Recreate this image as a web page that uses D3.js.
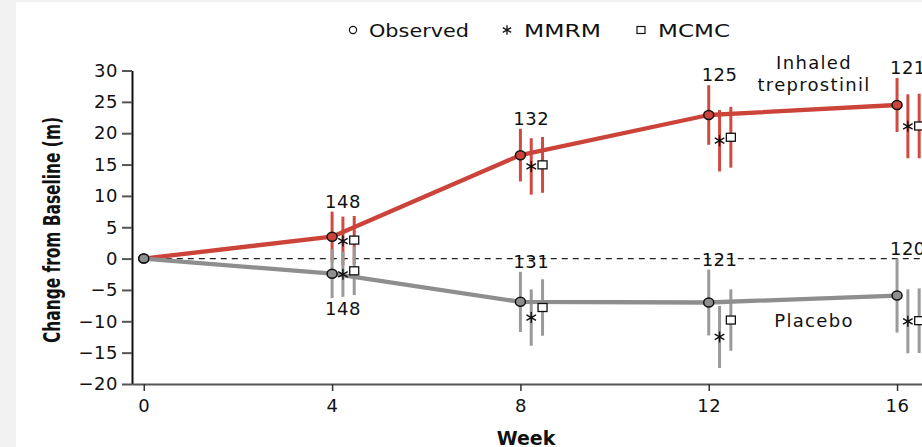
<!DOCTYPE html>
<html>
<head>
<meta charset="utf-8">
<script src="https://cdn.jsdelivr.net/npm/d3@7"></script>
<style>
  body { margin: 0; background: #f2f2f2; }
  svg { display: block; font-family: "DejaVu Sans", sans-serif; }
</style>
</head>
<body>
<div id="chart"></div>
<script>
// weeks and group sizes
var weeks = [0, 4, 8, 12, 16];
var trepN = [148, 132, 125, 121];
var placN = [148, 131, 121, 120];

// inhaled treprostinil, change from baseline (m) and half width of the bars
var trepObs = [0, 3.5, 16.5, 22.9, 24.5];
var trepObsCI = [0, 4.0, 4.2, 4.75, 4.3];
var trepMMRM = [2.8, 14.7, 18.8, 21.1];
var trepMMRMCI = [3.9, 4.5, 4.9, 5.1];
var trepMCMC = [2.95, 14.95, 19.35, 21.15];
var trepMCMCCI = [3.85, 4.45, 4.85, 5.15];

// placebo
var placObs = [0, -2.4, -6.9, -7.0, -5.9];
var placObsCI = [0, 3.9, 4.8, 5.25, 5.9];
var placMMRM = [-2.5, -9.4, -12.5, -10.0];
var placMMRMCI = [3.6, 4.5, 4.95, 5.1];
var placMCMC = [-1.95, -7.8, -9.8, -9.9];
var placMCMCCI = [3.85, 4.5, 4.9, 5.15];

var yTicks = [-20, -15, -10, -5, 0, 5, 10, 15, 20, 25, 30];
var xTicks = [0, 4, 8, 12, 16];
var legendLabels = ["Observed", "MMRM", "MCMC"];

var width = 922, height = 447;
var red = "#cb4339", redBar = "#d04a40";
var grey = "#8e8e8e", greyBar = "#9a9a9a";
var offMMRM = 0.23, offMCMC = 0.47;

var svg = d3.select("#chart").append("svg")
    .attr("width", width)
    .attr("height", height);

svg.append("rect")
    .attr("x", 16).attr("y", 2)
    .attr("width", width - 16).attr("height", height - 2)
    .attr("fill", "white");

var x = d3.scaleLinear().domain([-0.25, 16.53]).range([132, 922]);
var y = d3.scaleLinear().domain([-20, 30]).range([384, 70.5]);

// axes
var yAxis = svg.append("g")
    .attr("transform", "translate(132,0)")
    .call(d3.axisLeft(y).tickValues(yTicks).tickSize(10).tickSizeOuter(0).tickPadding(4));
yAxis.select(".domain").attr("stroke", "#111").attr("stroke-width", 2);
yAxis.selectAll(".tick line").attr("stroke", "#555").attr("stroke-width", 2);
yAxis.selectAll("text").attr("font-size", 18).attr("fill", "#111")
    .attr("font-family", "DejaVu Sans").style("letter-spacing", "0.5px");

var xAxis = svg.append("g")
    .attr("transform", "translate(0,384)")
    .call(d3.axisBottom(x).tickValues(xTicks).tickSize(7).tickSizeOuter(0).tickPadding(8));
xAxis.select(".domain").attr("stroke", "#555").attr("stroke-width", 2);
xAxis.selectAll(".tick line").attr("stroke", "#333").attr("stroke-width", 1.5);
xAxis.selectAll("text").attr("font-size", 18).attr("fill", "#111")
    .attr("font-family", "DejaVu Sans").style("letter-spacing", "0.5px");

// titles
svg.append("text")
    .attr("transform", "translate(60,230) rotate(-90)")
    .attr("text-anchor", "middle")
    .attr("font-size", 23)
    .attr("font-weight", "bold")
    .attr("textLength", 226)
    .attr("lengthAdjust", "spacingAndGlyphs")
    .attr("fill", "#111")
    .text("Change from Baseline (m)");

svg.append("text")
    .attr("x", 526).attr("y", 445)
    .attr("text-anchor", "middle")
    .attr("font-size", 19)
    .attr("font-weight", "bold")
    .attr("fill", "#111")
    .text("Week");

// zero reference
svg.append("line")
    .attr("x1", x(0)).attr("x2", width)
    .attr("y1", y(0)).attr("y2", y(0))
    .attr("stroke", "#222")
    .attr("stroke-width", 1.2)
    .attr("stroke-dasharray", "6,5");

var line = d3.line()
    .x(function(d, i) { return x(weeks[i]); })
    .y(function(d) { return y(d); });

var star = d3.symbol().type(d3.symbolAsterisk).size(85);

function drawGroup(obs, obsCI, mmrm, mmrmCI, mcmc, mcmcCI, lineCol, barCol) {
  var g = svg.append("g");
  var bars = [];
  weeks.slice(1).forEach(function(w, i) {
    bars.push({x: w, m: obs[i + 1], h: obsCI[i + 1]});
    bars.push({x: w + offMMRM, m: mmrm[i], h: mmrmCI[i]});
    bars.push({x: w + offMCMC, m: mcmc[i], h: mcmcCI[i]});
  });
  g.selectAll(".bar").data(bars).enter().append("line")
      .attr("x1", function(d) { return x(d.x); })
      .attr("x2", function(d) { return x(d.x); })
      .attr("y1", function(d) { return y(d.m + d.h); })
      .attr("y2", function(d) { return y(d.m - d.h); })
      .attr("stroke", barCol)
      .attr("stroke-width", 3);

  g.append("path")
      .datum(obs)
      .attr("d", line)
      .attr("fill", "none")
      .attr("stroke", lineCol)
      .attr("stroke-width", 4.3)
      .attr("stroke-linejoin", "round");

  g.selectAll(".obs").data(obs).enter().append("ellipse")
      .attr("cx", function(d, i) { return x(weeks[i]); })
      .attr("cy", function(d) { return y(d); })
      .attr("rx", 5).attr("ry", 4.5)
      .attr("fill", lineCol)
      .attr("stroke", "#111")
      .attr("stroke-width", 1.5);

  g.selectAll(".mmrm").data(mmrm).enter().append("path")
      .attr("d", star)
      .attr("transform", function(d, i) { return "translate(" + x(weeks[i + 1] + offMMRM) + "," + y(d) + ")"; })
      .attr("fill", "none")
      .attr("stroke", "#111")
      .attr("stroke-width", 1.4);

  g.selectAll(".mcmc").data(mcmc).enter().append("rect")
      .attr("x", function(d, i) { return x(weeks[i + 1] + offMCMC) - 4.5; })
      .attr("y", function(d) { return y(d) - 4; })
      .attr("width", 9).attr("height", 8)
      .attr("fill", "white")
      .attr("stroke", "#111")
      .attr("stroke-width", 1.3);
}

drawGroup(trepObs, trepObsCI, trepMMRM, trepMMRMCI, trepMCMC, trepMCMCCI, red, redBar);
drawGroup(placObs, placObsCI, placMMRM, placMMRMCI, placMCMC, placMCMCCI, grey, greyBar);

// number of patients
var nText = svg.append("g")
    .attr("font-size", 18)
    .attr("fill", "#111")
    .attr("text-anchor", "middle")
    .style("letter-spacing", "0.5px");

nText.selectAll(".tn").data(trepN).enter().append("text")
    .attr("x", function(d, i) { return x(weeks[i + 1] + offMMRM); })
    .attr("y", function(d, i) { return y(trepObs[i + 1] + trepObsCI[i + 1]) - 4; })
    .text(function(d) { return d; });

nText.selectAll(".pn").data(placN).enter().append("text")
    .attr("x", function(d, i) { return x(weeks[i + 1] + offMMRM); })
    .attr("y", function(d, i) {
      if (i === 0) return y(placMMRM[0] - placMMRMCI[0]) + 18;
      return y(placObs[i + 1] + placObsCI[i + 1]) - 4;
    })
    .text(function(d) { return d; });

// group names
var names = svg.append("g")
    .attr("font-size", 18)
    .attr("fill", "#111")
    .attr("text-anchor", "middle")
    .style("letter-spacing", "1.3px");
names.append("text").attr("x", 814).attr("y", 69).text("Inhaled");
names.append("text").attr("x", 814).attr("y", 91).text("treprostinil");
names.append("text").attr("x", 814).attr("y", 327).text("Placebo");

// legend
var leg = svg.append("g").attr("font-size", 18).attr("fill", "#111");
leg.append("circle").attr("cx", 353).attr("cy", 30).attr("r", 3.6)
    .attr("fill", "white").attr("stroke", "#111").attr("stroke-width", 1.2);
leg.append("path").attr("d", d3.symbol().type(d3.symbolAsterisk).size(65))
    .attr("transform", "translate(507,30)")
    .attr("fill", "none").attr("stroke", "#111").attr("stroke-width", 1.3);
leg.append("rect").attr("x", 637).attr("y", 26.5).attr("width", 8).attr("height", 7)
    .attr("fill", "white").attr("stroke", "#111").attr("stroke-width", 1.2);
var legX = [369, 524, 658];
var legLen = [100, 77, 72];
leg.selectAll(".lt").data(legendLabels).enter().append("text")
    .attr("x", function(d, i) { return legX[i]; })
    .attr("y", 36.5)
    .attr("textLength", function(d, i) { return legLen[i]; })
    .attr("lengthAdjust", "spacingAndGlyphs")
    .text(function(d) { return d; });
</script>
</body>
</html>
